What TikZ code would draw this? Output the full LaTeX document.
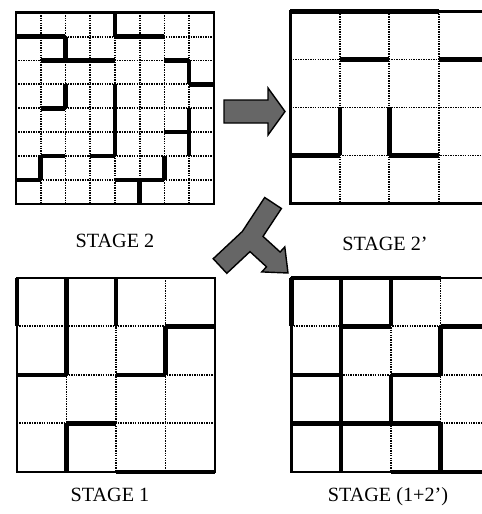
\documentclass[tikz,border=0pt]{standalone}
\usepackage{fontspec}
\setmainfont{Liberation Serif}
\begin{document}
\begin{tikzpicture}[x=0.02cm, y=-0.02cm, line join=miter,
  gridline/.style={line width=1.1pt, dash pattern=on 0.8pt off 0.6pt},
  frame/.style={line width=1.4pt},
  wall/.style={line width=2.6pt, line cap=square},
  blockarrow/.style={fill=black!60, draw=black, line width=0.8pt},
  stagelab/.style={anchor=base, font=\fontsize{11.5}{13}\selectfont, inner sep=0pt}]
  \clip (0,0) rectangle (482,514);
  % stage 2, 8 x 8 cells
  \begin{scope}[xshift=0.32cm, yshift=-0.254cm, x=0.495cm, y=-0.478cm]
    \foreach \i in {1,...,7} {
      \draw[gridline] (\i,0) -- (\i,8);
      \draw[gridline] (0,\i) -- (8,\i);
    }
    \draw[frame] (0,0) rectangle (8,8);
    \foreach \x/\y/\u/\v in {0/1/2/1, 4/1/6/1, 1/2/4/2, 6/2/7/2, 7/3/8/3,
        1/4/2/4, 6/5/7/5, 1/6/2/6, 3/6/4/6, 0/7/1/7, 4/7/6/7,
        1/6/1/7, 2/1/2/2, 2/3/2/4, 4/0/4/1, 4/3/4/6, 5/7/5/8,
        6/6/6/7, 7/2/7/3, 7/4/7/6}
      \draw[wall] (\x,\y) -- (\u,\v);
  \end{scope}
  % stage 2', 4 x 4 cells
  \begin{scope}[xshift=5.81cm, yshift=-0.23cm, x=0.99cm, y=-0.96cm]
    \foreach \i in {1,2,3} {
      \draw[gridline] (\i,0) -- (\i,4);
      \draw[gridline] (0,\i) -- (4,\i);
    }
    \draw[frame] (0,0) rectangle (4,4);
    \foreach \x/\y/\u/\v in {0/0/3/0, 1/1/2/1, 3/1/4/1, 1/2/1/3, 2/2/2/3,
        0/3/1/3, 2/3/3/3}
      \draw[wall] (\x,\y) -- (\u,\v);
  \end{scope}
  % stage 1
  \begin{scope}[xshift=0.34cm, yshift=-5.56cm, x=0.99cm, y=-0.97cm]
    \foreach \i in {1,2,3} {
      \draw[gridline] (\i,0) -- (\i,4);
      \draw[gridline] (0,\i) -- (4,\i);
    }
    \draw[frame] (0,0) rectangle (4,4);
    \foreach \x/\y/\u/\v in {0/0/0/1, 1/0/1/2, 2/0/2/1, 3/1/4/1, 3/1/3/2,
        0/2/1/2, 2/2/3/2, 1/3/2/3, 1/3/1/4, 2/4/4/4}
      \draw[wall] (\x,\y) -- (\u,\v);
  \end{scope}
  % stage (1+2')
  \begin{scope}[xshift=5.83cm, yshift=-5.56cm, x=0.994cm, y=-0.97cm]
    \foreach \i in {1,2,3} {
      \draw[gridline] (\i,0) -- (\i,4);
      \draw[gridline] (0,\i) -- (4,\i);
    }
    \draw[frame] (0,0) rectangle (4,4);
    \foreach \x/\y/\u/\v in {0/0/3/0, 0/0/0/1, 1/0/1/4, 2/0/2/1, 2/2/2/3,
        3/1/3/2, 3/3/3/4, 1/1/2/1, 3/1/4/1, 0/2/1/2, 2/2/3/2, 0/3/3/3,
        2/4/4/4}
      \draw[wall] (\x,\y) -- (\u,\v);
  \end{scope}
  % arrows
  \draw[blockarrow] (224,100) -- (268,100) -- (268,88) -- (285,111.5)
    -- (268,135) -- (268,123) -- (224,123) -- cycle;
  \draw[blockarrow] (264.7,197.5) -- (281.4,208.5) -- (263.0,236.4)
    -- (280.1,252.0) -- (284.8,246.9) -- (288,273) -- (261.8,271.9)
    -- (266.5,266.8) -- (250.0,251.6) -- (226.8,273.3) -- (213.2,258.7)
    -- (242.3,231.5) -- cycle;
  % labels
  \node[stagelab] (lab2) at (115,247) {STAGE 2};
  \node[stagelab] (lab2p) at (385,250) {STAGE 2'};
  \node[stagelab] (lab1) at (110,501) {STAGE 1};
  \node[stagelab] (lab12) at (388,501) {STAGE (1+2')};
\end{tikzpicture}
\end{document}
